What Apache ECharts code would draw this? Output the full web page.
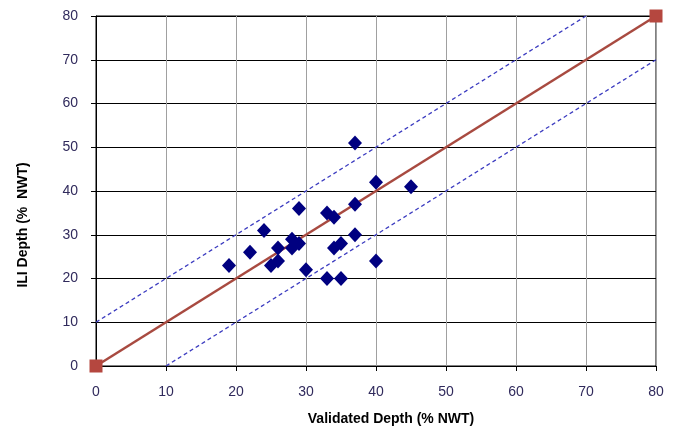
<!DOCTYPE html>
<html><head><meta charset="utf-8">
<script src="https://cdn.jsdelivr.net/npm/echarts@6/dist/echarts.min.js"></script>
<style>html,body{margin:0;padding:0;background:#fff}#c{width:675px;height:431px}</style>
</head><body><div id="c"></div>
<script>
const validatedDepth = [37,40,45,37,29,33,34,24,37,28,29,26,28,35,34,22,19,25,26,30,40,33,35];
const iliDepth       = [51,42,41,37,36,35,34,31,30,29,28,27,27,28,27,26,23,23,24,22,24,20,20];
const unityLine = [[0,0],[80,80]];
const upperBand = [[0,10],[70,80]];
const lowerBand = [[10,0],[80,70]];

const chart = echarts.init(document.getElementById('c'));
const labelFont = {fontFamily:'Liberation Sans, Arial, sans-serif', fontSize:14, color:'#302a5c'};
const titleFont = {fontFamily:'Liberation Sans, Arial, sans-serif', fontSize:14, fontWeight:'bold', color:'#000'};
chart.setOption({
  animation:false,
  grid:{left:96,right:19,top:16,bottom:62,containLabel:false,show:true,borderColor:'#000',borderWidth:1,backgroundColor:'#fff'},
  xAxis:{type:'value',min:0,max:80,interval:10,
    name:'Validated Depth (% NWT)',nameLocation:'middle',nameGap:46,
    nameTextStyle:Object.assign({padding:[0,0,0,30]},titleFont),
    axisLine:{show:true,onZero:false,lineStyle:{color:'#000',width:1}},
    axisTick:{show:true,length:5,lineStyle:{color:'#000'}},
    axisLabel:Object.assign({margin:19},labelFont),
    splitLine:{show:true,lineStyle:{color:'#a0a0a0',width:1}}},
  yAxis:{type:'value',min:0,max:80,interval:10,
    name:'ILI Depth (%  NWT)',nameLocation:'middle',nameGap:66,
    nameTextStyle:Object.assign({padding:[0,68,0,0]},titleFont),
    axisLine:{show:true,onZero:false,lineStyle:{color:'#000',width:1}},
    axisTick:{show:true,length:5,lineStyle:{color:'#000'}},
    axisLabel:Object.assign({margin:18},labelFont),
    splitLine:{show:true,lineStyle:{color:'#000',width:1}}},
  series:[
    {type:'line',data:upperBand,symbol:'none',lineStyle:{color:'#3c3cc0',width:1.3,type:[4,3]},z:2},
    {type:'line',data:lowerBand,symbol:'none',lineStyle:{color:'#3c3cc0',width:1.3,type:[4,3]},z:2},
    {type:'line',data:unityLine,symbol:'rect',symbolSize:13,lineStyle:{color:'#a84a40',width:2.5},
      itemStyle:{color:'#b5473f'},z:3},
    {type:'scatter',data:validatedDepth.map((v,i)=>[v,iliDepth[i]]),symbol:'diamond',symbolSize:[14,15],
      itemStyle:{color:'#000080',opacity:1},z:4}
  ]
});
</script></body></html>
